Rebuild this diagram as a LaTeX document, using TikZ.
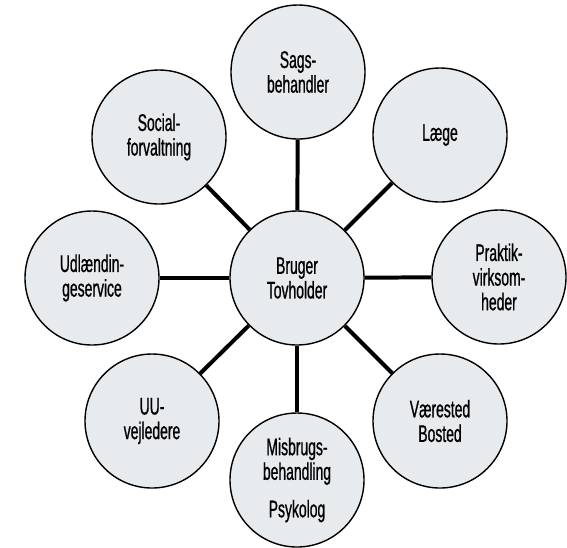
\documentclass[tikz,border=0pt]{standalone}
\usepackage{fontspec}
\setmainfont[FakeStretch=0.58,FakeBold=0.8]{Liberation Sans}
\usepackage{tikz}
\usepackage{xcolor}

\definecolor{circfill}{RGB}{232,235,238}

\begin{document}
\begin{tikzpicture}[x=0.03cm,y=-0.03cm,
    part/.style={circle,draw=black,line width=1.2pt,fill=circfill,
      minimum size=4.02cm,inner sep=0pt,align=center,
      font=\fontsize{20.5}{21}\selectfont},
    link/.style={line width=3.4pt}]
                \useasboundingbox (0,0) rectangle (567,547);
                \node[part] (bruger) at (297,278) {Bruger\\Tovholder};
                \node[part] (sags) at (298,72) {Sags-\\behandler};
                \node[part] (laege) at (440,135) {Læge};
                \node[part] (praktik) at (499,277) {Praktik-\\virksom-\\heder};
                \node[part] (vaerested) at (440,421) {Værested\\Bosted};
                \node[part] (misbrug) at (297,480) {Misbrugs-\\behandling\\[11pt]Psykolog};
                \node[part] (uu) at (152,421) {UU-\\vejledere};
                \node[part] (udl) at (92,278) {Udlændin-\\geservice};
                \node[part] (social) at (159,137) {Social-\\forvaltning};
                \foreach \n in {sags,laege,praktik,vaerested,misbrug,uu,udl,social}
                    \draw[link] (bruger) -- (\n);
            \end{tikzpicture}
\end{document}
